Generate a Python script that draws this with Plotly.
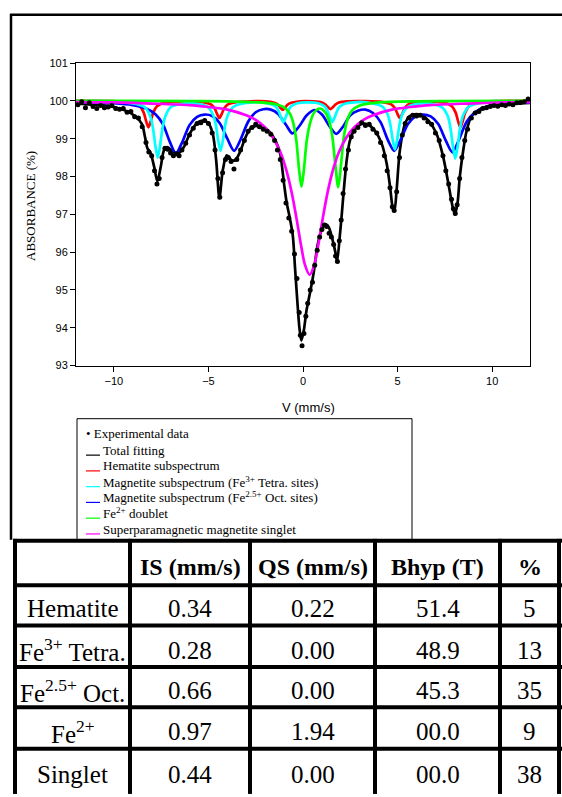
import plotly.graph_objects as go

# ---------------- data ----------------
exp_v = [-11.9,-11.7,-11.5,-11.3,-11.1,-10.9,-10.7,-10.5,-10.3,-10.1,-9.9,-9.7,-9.5,-9.3,-9.1,-8.9,-8.7,-8.5,-8.3,-8.15,
         -8.0,-7.85,-7.72,-7.6,-7.45,-7.3,-7.15,-7.0,-6.85,-6.7,-6.55,-6.4,-6.2,-6.0,-5.8,-5.6,-5.4,-5.2,-5.0,-4.8,
         -4.65,-4.5,-4.4,-4.25,-4.1,-3.95,-3.8,-3.65,-3.5,-3.3,-3.1,-2.9,-2.7,-2.5,-2.3,-2.1,-1.9,-1.7,-1.5,-1.35,
         -1.2,-1.05,-0.9,-0.75,-0.6,-0.45,-0.32,-0.2,-0.14,-0.05,0.05,0.15,0.25,0.38,0.5,0.62,0.75,0.88,1.0,1.12,
         1.25,1.38,1.5,1.62,1.72,1.82,1.92,2.02,2.12,2.25,2.4,2.55,2.7,2.9,3.1,3.3,3.5,3.7,3.9,4.1,
         4.3,4.45,4.6,4.72,4.82,4.95,5.1,5.25,5.4,5.6,5.8,6.0,6.2,6.4,6.6,6.8,7.0,7.2,7.4,7.55,
         7.7,7.85,7.95,8.05,8.15,8.28,8.4,8.55,8.7,8.9,9.1,9.3,9.5,9.7,9.9,10.1,10.3,10.5,10.7,10.9,
         11.1,11.3,11.5,11.7,11.9]
exp_a = [99.90,99.98,99.82,99.95,99.85,99.80,99.88,99.82,99.84,99.88,99.80,99.78,99.80,99.70,99.72,99.58,99.55,99.32,98.90,98.65,
         98.55,98.15,97.80,97.95,98.50,98.75,98.72,98.62,98.55,98.60,98.55,98.70,98.88,99.10,99.28,99.40,99.42,99.48,99.40,99.15,
         98.70,97.95,97.45,98.10,98.45,98.50,98.40,98.20,98.45,98.70,98.95,99.20,99.30,99.38,99.32,99.25,99.20,99.12,98.95,98.70,
         98.45,97.90,97.30,96.90,96.55,95.95,95.30,94.40,93.80,93.52,93.85,94.30,94.65,95.00,95.20,95.65,96.05,96.40,96.60,96.72,
         96.68,96.50,96.40,96.20,95.90,95.75,96.30,96.85,97.55,98.20,98.70,99.05,99.20,99.30,99.42,99.35,99.38,99.25,99.15,98.90,
         98.55,98.15,97.70,97.20,97.10,97.60,98.50,99.10,99.40,99.55,99.62,99.60,99.62,99.55,99.45,99.38,99.15,98.95,98.55,98.15,
         97.80,97.40,97.15,97.02,97.25,97.95,98.50,98.95,99.25,99.55,99.68,99.72,99.80,99.82,99.85,99.88,99.86,99.90,99.88,99.92,
         99.90,99.95,99.96,99.98,100.05]

total_v = [-12,-11,-10.2,-9.32,-8.88,-8.52,-8.35,-8.22,-8.08,-7.87,-7.7,-7.52,-7.35,-7.17,-6.86,-6.6,-6.3,-5.99,-5.64,-5.38,
           -5.03,-4.77,-4.59,-4.42,-4.24,-4.03,-3.77,-3.59,-3.33,-3.07,-2.8,-2.45,-2.1,-1.74,-1.42,-1.21,-1.0,-0.86,-0.72,-0.54,
           -0.42,-0.3,-0.19,-0.09,0.04,0.18,0.35,0.56,0.77,1.0,1.18,1.36,1.53,1.71,1.8,1.95,2.05,2.15,2.31,2.48,
           2.75,3.1,3.45,3.8,4.16,4.42,4.6,4.76,4.83,4.95,5.12,5.39,5.65,6.0,6.36,6.71,7.06,7.41,7.68,7.9,
           8.03,8.17,8.29,8.47,8.65,8.91,9.35,10.2,11.1,12]
total_a = [99.93,99.90,99.86,99.73,99.60,99.39,99.04,98.74,98.65,98.26,97.87,98.26,98.69,98.78,98.65,98.61,98.78,99.13,99.39,99.47,
           99.43,99.13,98.43,97.43,98.17,98.56,98.43,98.43,98.65,99.00,99.26,99.34,99.30,99.17,98.91,98.61,97.80,97.30,96.96,96.44,
           95.57,94.70,94.00,93.66,93.92,94.44,94.87,95.44,96.18,96.61,96.74,96.66,96.39,96.00,95.75,96.45,97.00,97.60,98.43,98.95,
           99.26,99.39,99.37,99.21,98.87,98.35,97.74,97.13,97.09,97.65,98.69,99.39,99.60,99.65,99.60,99.43,99.13,98.52,97.83,97.22,
           97.00,97.30,98.00,98.69,99.21,99.60,99.78,99.91,99.93,99.95]

hem_v = [-12,-9.07,-8.62,-8.42,-8.29,-8.17,-8.05,-7.92,-7.72,-7.27,-5.32,-4.87,-4.67,-4.54,-4.42,-4.30,-4.17,-3.97,-3.52,
         -1.97,-1.52,-1.32,-1.19,-1.07,-0.95,-0.82,-0.62,-0.17,0.55,1.0,1.2,1.33,1.45,1.57,1.7,1.9,2.35,
         4.22,4.67,4.87,5.0,5.12,5.24,5.37,5.57,6.02,7.42,7.87,8.07,8.2,8.32,8.44,8.57,8.77,9.22,12]
hem_a = [100.0,99.96,99.86,99.69,99.46,99.30,99.46,99.69,99.86,99.96,99.97,99.91,99.80,99.65,99.55,99.65,99.80,99.91,99.97,
         99.99,99.95,99.90,99.82,99.76,99.82,99.90,99.95,99.99,99.99,99.96,99.90,99.83,99.78,99.83,99.90,99.96,99.99,
         99.97,99.91,99.80,99.65,99.55,99.65,99.80,99.91,99.97,99.96,99.86,99.69,99.46,99.30,99.46,99.69,99.86,99.96,100.0]

tet_v = [-12,-9.5,-8.4,-8.08,-7.93,-7.8,-7.68,-7.56,-7.43,-7.28,-6.98,-6.0,-5.06,-4.76,-4.61,-4.48,-4.36,-4.24,-4.11,-3.96,
         -3.66,-2.7,-1.74,-1.44,-1.29,-1.16,-1.04,-0.92,-0.79,-0.64,-0.34,0.25,0.85,1.15,1.3,1.43,1.55,1.67,1.8,1.95,
         2.25,3.2,4.16,4.46,4.61,4.74,4.86,4.98,5.11,5.26,5.56,6.45,7.35,7.65,7.8,7.93,8.05,8.17,8.3,8.45,
         8.75,9.5,12]
tet_a = [99.99,99.97,99.85,99.60,99.28,98.80,98.50,98.80,99.28,99.59,99.84,99.94,99.85,99.64,99.37,98.94,98.68,98.94,99.37,99.64,
         99.85,99.96,99.92,99.85,99.73,99.56,99.44,99.56,99.73,99.85,99.93,99.96,99.93,99.85,99.73,99.56,99.44,99.56,99.73,99.85,
         99.93,99.97,99.86,99.66,99.39,98.98,98.72,98.98,99.39,99.66,99.85,99.94,99.83,99.60,99.27,98.78,98.48,98.78,99.27,99.60,
         99.84,99.96,99.99]

oct_v = [-12,-10,-9,-8.3,-7.8,-7.4,-7.05,-6.72,-6.4,-6.0,-5.6,-5.2,-4.8,-4.4,-4.0,-3.64,-3.3,-2.9,-2.5,-2.1,
         -1.7,-1.3,-0.9,-0.56,-0.2,0.2,0.6,1.0,1.4,1.76,2.1,2.5,2.9,3.3,3.7,4.1,4.5,4.82,5.15,5.55,
         5.95,6.35,6.75,7.15,7.55,7.9,8.25,8.65,9.1,9.6,10.3,11,12]
oct_a = [99.97,99.94,99.89,99.80,99.65,99.38,98.93,98.61,98.89,99.36,99.58,99.64,99.60,99.41,99.00,98.68,98.98,99.45,99.70,99.78,
         99.77,99.65,99.37,99.14,99.33,99.62,99.76,99.64,99.33,99.13,99.31,99.62,99.74,99.77,99.68,99.44,98.95,98.68,98.96,99.39,
         99.59,99.64,99.59,99.39,98.95,98.64,98.98,99.45,99.70,99.82,99.90,99.93,99.96]

fe2_v = [-12,-4,-2,-1.5,-1,-0.7,-0.5,-0.35,-0.2,-0.08,0.05,0.2,0.4,0.6,0.89,1.2,1.4,1.55,1.7,1.86,
         2.0,2.15,2.35,2.6,3,4,6,12]
fe2_a = [100.0,99.99,99.95,99.92,99.83,99.67,99.39,98.94,98.15,97.73,98.19,98.96,99.46,99.70,99.80,99.68,99.43,99.06,98.36,97.72,
         98.26,99.02,99.51,99.75,99.88,99.96,99.99,100.0]

sing_v = [-12,-10,-8,-6,-5,-4,-3,-2.5,-2,-1.6,-1.2,-0.9,-0.6,-0.35,-0.1,0.1,0.35,0.6,0.8,1.05,
          1.3,1.6,1.9,2.3,2.7,3.2,3.7,4.7,5.7,6.7,8.7,10.7,12]
sing_a = [99.97,99.96,99.93,99.89,99.84,99.77,99.62,99.50,99.30,99.04,98.65,98.20,97.58,96.91,96.17,95.67,95.40,95.67,96.17,96.91,
          97.58,98.20,98.65,99.04,99.30,99.50,99.62,99.77,99.84,99.89,99.93,99.96,99.97]

x_ticks = [-10, -5, 0, 5, 10]
y_ticks = [93, 94, 95, 96, 97, 98, 99, 100, 101]

legend_labels = ["Experimental data", "Total fitting", "Hematite subspectrum",
                 "Magnetite subspectrum (Fe<sup>3+</sup> Tetra. sites)",
                 "Magnetite subspectrum (Fe<sup>2.5+</sup> Oct. sites)",
                 "Fe<sup>2+</sup> doublet", "Superparamagnetic magnetite singlet"]

table_header = ["", "IS (mm/s)", "QS (mm/s)", "Bhyp (T)", "%"]
row_labels = ["Hematite", "Fe<sup>3+</sup> Tetra.", "Fe<sup>2.5+</sup> Oct.", "Fe<sup>2+</sup>", "Singlet"]
is_vals = ["0.34", "0.28", "0.66", "0.97", "0.44"]
qs_vals = ["0.22", "0.00", "0.00", "1.94", "0.00"]
bhyp_vals = ["51.4", "48.9", "45.3", "00.0", "00.0"]
pct_vals = ["5", "13", "35", "9", "38"]

# ---------------- layout helpers ----------------
W, H = 562, 797
def px(x):
    return x / W
def py(y):
    return 1 - y / H

SERIF = "Liberation Serif, Times New Roman, serif"
SANS = "Liberation Sans, Arial, sans-serif"

colors = {"total": "#000000", "hem": "#FF0000", "tet": "#00FFFF", "oct": "#0000FF",
          "fe2": "#00FF00", "sing": "#FF00FF"}

fig = go.Figure()
LW = 2.7
def add_line(xs, ys, color):
    fig.add_trace(go.Scatter(x=xs, y=ys, mode="lines",
                             line=dict(color=color, width=LW, shape="spline", smoothing=0.8),
                             showlegend=False, hoverinfo="skip"))

add_line(total_v, total_a, colors["total"])
add_line(hem_v, hem_a, colors["hem"])
add_line(oct_v, oct_a, colors["oct"])
add_line(tet_v, tet_a, colors["tet"])
add_line(fe2_v, fe2_a, colors["fe2"])
add_line(sing_v, sing_a, colors["sing"])
fig.add_trace(go.Scatter(x=exp_v, y=exp_a, mode="markers",
                         marker=dict(color="black", size=5),
                         showlegend=False, hoverinfo="skip"))

axis_common = dict(showgrid=False, zeroline=False, showline=True, linecolor="black", linewidth=1,
                   mirror=True, ticks="outside", ticklen=5, tickcolor="black", tickwidth=1,
                   tickfont=dict(family=SANS, size=11, color="black"))

fig.update_layout(
    width=W, height=H, autosize=False,
    margin=dict(l=0, r=0, t=0, b=0),
    paper_bgcolor="white", plot_bgcolor="white",
    xaxis=dict(domain=[px(76), px(530)], range=[-12, 12], tickvals=x_ticks, **axis_common),
    yaxis=dict(domain=[py(365), py(58)], range=[93, 101], tickvals=y_ticks, **axis_common),
    showlegend=False,
)

shapes = []
# outer frame (left and top)
shapes.append(dict(type="line", xref="paper", yref="paper", x0=px(11), x1=px(11), y0=py(8), y1=py(542),
                   line=dict(color="black", width=2.5)))
shapes.append(dict(type="line", xref="paper", yref="paper", x0=px(10), x1=px(562), y0=py(9), y1=py(9),
                   line=dict(color="black", width=2.5)))
# legend box
shapes.append(dict(type="rect", xref="paper", yref="paper", x0=px(77), x1=px(412), y0=py(419), y1=py(542),
                   line=dict(color="black", width=1)))

annotations = []
annotations.append(dict(xref="paper", yref="paper", x=px(31), y=py(203), text="ABSORBANCE (%)",
                        textangle=-90, showarrow=False, xanchor="center", yanchor="middle",
                        font=dict(family=SERIF, size=13, color="black")))
annotations.append(dict(xref="paper", yref="paper", x=px(308), y=py(408), text="V (mm/s)",
                        showarrow=False, xanchor="center", yanchor="middle",
                        font=dict(family=SANS, size=13, color="black")))

leg_colors = ["#000000", "#000000", "#FF0000", "#00FFFF", "#0000FF", "#00FF00", "#FF00FF"]
leg_y = [434, 451, 467, 483, 499, 515, 531]
for i, lab in enumerate(legend_labels):
    if i == 0:
        annotations.append(dict(xref="paper", yref="paper", x=px(84), y=py(leg_y[i]), text="• " + lab,
                                xanchor="left", yanchor="middle", showarrow=False,
                                font=dict(family=SERIF, size=13, color="black")))
    else:
        shapes.append(dict(type="line", xref="paper", yref="paper", x0=px(86), x1=px(100),
                           y0=py(leg_y[i] + 5), y1=py(leg_y[i] + 5),
                           line=dict(color=leg_colors[i], width=1.2)))
        annotations.append(dict(xref="paper", yref="paper", x=px(101), y=py(leg_y[i]), text=lab,
                                xanchor="left", yanchor="middle", showarrow=False,
                                font=dict(family=SERIF, size=13, color="black")))

# table
col_edges = [15, 130, 250, 375, 500, 559]
row_edges = [543, 588, 629, 671, 712, 754, 797]
TW = 4
for xe in col_edges:
    shapes.append(dict(type="line", xref="paper", yref="paper", x0=px(xe), x1=px(xe), y0=py(541), y1=py(800),
                       line=dict(color="black", width=TW)))
for ye in row_edges[:-1]:
    shapes.append(dict(type="line", xref="paper", yref="paper", x0=px(13), x1=px(562), y0=py(ye), y1=py(ye),
                       line=dict(color="black", width=TW)))

row_centers = [570, 612, 654, 695, 737, 780]
col_centers = [(col_edges[i] + col_edges[i + 1]) / 2 for i in range(5)]
TFS = 25
for j, h in enumerate(table_header):
    if h:
        annotations.append(dict(xref="paper", yref="paper", x=px(col_centers[j]), y=py(row_centers[0]),
                                text="<b>%s</b>" % h, showarrow=False, xanchor="center", yanchor="middle",
                                font=dict(family=SERIF, size=TFS - 1, color="black")))
cols = [row_labels, is_vals, qs_vals, bhyp_vals, pct_vals]
for r in range(5):
    for c in range(5):
        annotations.append(dict(xref="paper", yref="paper", x=px(col_centers[c]), y=py(row_centers[r + 1]),
                                text=cols[c][r], showarrow=False, xanchor="center", yanchor="middle",
                                font=dict(family=SERIF, size=TFS, color="black")))

fig.update_layout(shapes=shapes, annotations=annotations)

fig.write_html("out.html", config={"displayModeBar": False},
               post_script="document.body.style.margin='0';document.body.style.overflow='hidden';")
